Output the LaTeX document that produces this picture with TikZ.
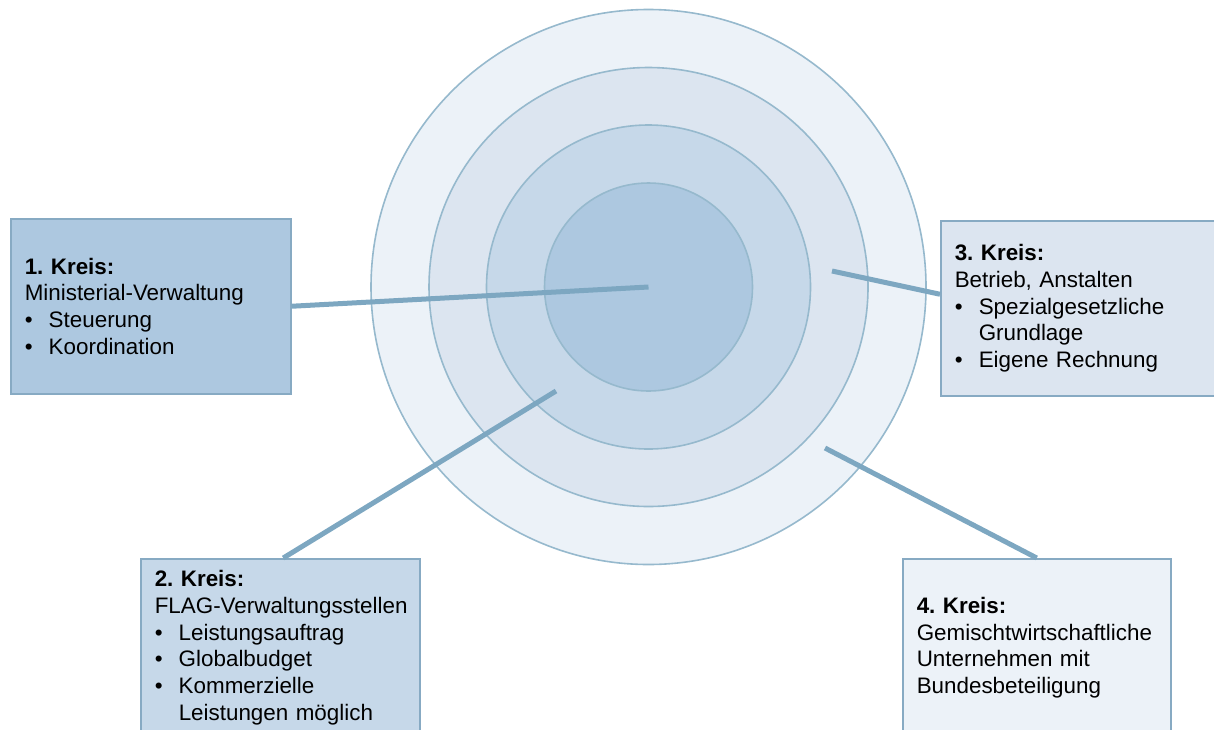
\documentclass[tikz,border=0pt]{standalone}
\usepackage{fontspec}
\setmainfont{Liberation Sans}
\frenchspacing
\definecolor{kreisA}{RGB}{173,200,224}
\definecolor{kreisB}{RGB}{198,216,233}
\definecolor{kreisC}{RGB}{220,229,240}
\definecolor{kreisD}{RGB}{236,242,248}
\definecolor{kreisrand}{RGB}{150,185,205}
\definecolor{rahmen}{RGB}{135,170,195}
\definecolor{linie}{RGB}{125,167,193}
\newcommand{\bul}{\makebox[24pt][l]{\textbullet}}
\begin{document}
\begin{tikzpicture}[x=1pt, y=-1pt,
  kreislinie/.style={draw=kreisrand, line width=1.6pt},
  kreis box/.style={draw=rahmen, line width=1.5pt, anchor=north west, inner xsep=14pt, inner ysep=0pt, align=left, font=\fontsize{22.4}{26.7}\selectfont},
  verbinder/.style={draw=linie, line width=5pt}]
\clip (0,0) rectangle (1214,729);
\coordinate (mitte) at (648.5,287);
% Kreise
\foreach \r/\farbe in {277.5/kreisD, 219.5/kreisC, 162/kreisB, 104/kreisA}
  \draw[kreislinie, fill=\farbe] (mitte) circle (\r pt);
% Kaesten
\node[kreis box, fill=kreisA, text width=252pt, minimum height=175pt] (k1) at (10,218)
  {\textbf{1. Kreis:}\\Ministerial-Verwaltung\\\bul Steuerung\\\bul Koordination};
\node[kreis box, fill=kreisB, text width=251pt, minimum height=178pt] (k2) at (140,558)
  {\textbf{2. Kreis:}\\\mbox{FLAG-Verwaltungsstellen}\\\bul Leistungsauftrag\\\bul Globalbudget\\\bul Kommerzielle\\\hspace*{24pt}Leistungen möglich};
\node[kreis box, fill=kreisC, text width=250pt, minimum height=175pt] (k3) at (940,220)
  {\textbf{3. Kreis:}\\Betrieb, Anstalten\\\bul Spezialgesetzliche\\\hspace*{24pt}Grundlage\\\bul Eigene Rechnung};
\node[kreis box, fill=kreisD, text width=240pt, minimum height=178pt] (k4) at (902,558)
  {\textbf{4. Kreis:}\\\mbox{Gemischtwirtschaftliche}\\Unternehmen mit\\Bundesbeteiligung};
% Verbindungen
\coordinate (e2) at (556,391);
\coordinate (e3) at (832,271);
\coordinate (e4) at (825,448);
\draw[verbinder] (k1.east) -- (mitte);
\draw[verbinder] ([xshift=3pt]k2.north) -- (e2);
\draw[verbinder] (e3) -- ([yshift=14pt]k3.west);
\draw[verbinder] (e4) -- (k4.north);
\end{tikzpicture}
\end{document}
